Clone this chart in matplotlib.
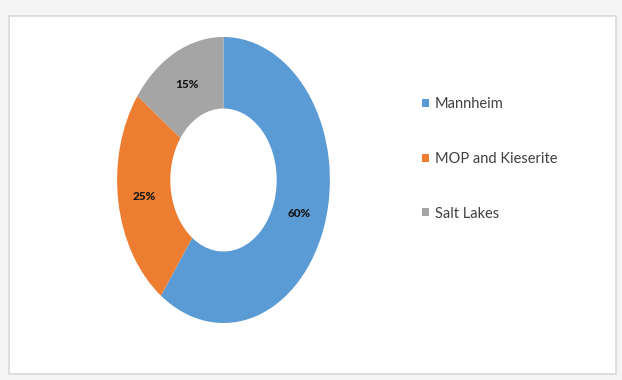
import matplotlib
matplotlib.use("Agg")
import matplotlib.pyplot as plt
from matplotlib.patches import Rectangle

# Share of production by source
categories = ["Mannheim", "MOP and Kieserite", "Salt Lakes"]
shares = [60, 25, 15]
colors = ["#5B9BD5", "#ED7D31", "#A5A5A5"]

FONT = ["Lato", "DejaVu Sans"]

fig = plt.figure(figsize=(6.22, 3.80), dpi=100)
fig.patch.set_facecolor("#f5f5f5")

# White chart panel with a soft border
panel = Rectangle((9 / 622, 6 / 380), 607 / 622, 358 / 380,
                  transform=fig.transFigure, facecolor="white",
                  edgecolor="#d9d9d9", linewidth=1.2, zorder=-5)
fig.patches.append(panel)

ax = fig.add_axes([90.5 / 622, 21.25 / 380, 266 / 622, 357.5 / 380])
ax.set_zorder(2)
wedges, texts, autotexts = ax.pie(
    shares, colors=colors, startangle=90, counterclock=False,
    autopct=lambda p: f"{p:.0f}%", pctdistance=0.75,
    wedgeprops=dict(width=0.5, edgecolor="none"),
    textprops=dict(color="#151515", fontsize=8.5, fontweight="black",
                   family=FONT),
)
ax.set_aspect("auto")
ax.set_xlim(-1.25, 1.25)
ax.set_ylim(-1.25, 1.25)
ax.set_facecolor("none")

leg = fig.legend(
    wedges, categories, loc="upper left",
    bbox_to_anchor=(422 / 622, 1 - 97.5 / 380),
    frameon=False, labelcolor="#404040",
    handlelength=0.48, handleheight=0.48, handletextpad=0.4,
    labelspacing=2.78, borderaxespad=0, borderpad=0,
    prop=dict(family=FONT, size=10.5),
)

fig.savefig("out.png", dpi=100, facecolor=fig.get_facecolor())
